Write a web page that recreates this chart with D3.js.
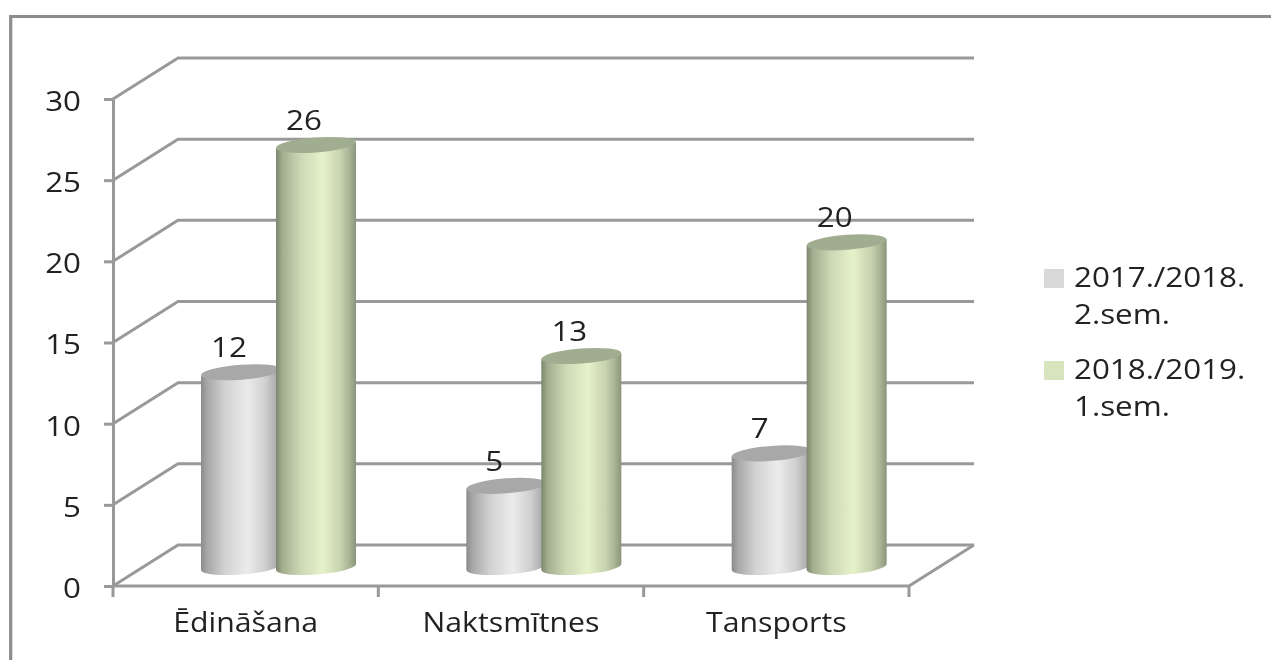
<!DOCTYPE html>
<html>
<head>
<meta charset="utf-8">
<script src="https://cdn.jsdelivr.net/npm/d3@7"></script>
<style>
  html, body { margin: 0; padding: 0; background: #fff; overflow: hidden; }
  svg { display: block; filter: blur(0.55px); }
  text { font-family: "Open Sans", sans-serif; fill: #222; }
</style>
</head>
<body>
<div id="viz-container"></div>
<script>
const categories = ['Ēdināšana', 'Naktsmītnes', 'Tansports'];
const seriesNames = ['2017./2018. 2.sem.', '2018./2019. 1.sem.'];
const legendLines = [['2017./2018.', '2.sem.'], ['2018./2019.', '1.sem.']];
const values2017 = [12, 5, 7];
const values2018 = [26, 13, 20];
const yTicks = [0, 5, 10, 15, 20, 25, 30];

const W = 1271, H = 660;
const plot = {left: 113, right: 909, top: 99, bottom: 586};
const depth = {x: 65, y: -41};   // floor offset of the 3d box
const barLift = -19;             // cylinders stand a bit behind the front edge
const rx = 40, ry = 7.5, tilt = -4.3;
const gridColor = '#999';
const fontSize = 27;
const textStretch = 1.16;        // the source picture is wider than it is tall

const svg = d3.select('#viz-container').append('svg')
  .attr('width', W).attr('height', H);

const defs = svg.append('defs');
function gradient(id, stops) {
  const g = defs.append('linearGradient').attr('id', id);
  stops.forEach(([o, c]) => g.append('stop').attr('offset', o).attr('stop-color', c));
}
gradient('barGray', [[0, '#8c8c8c'], [0.08, '#a8a8a8'], [0.3, '#d2d2d2'], [0.58, '#ebebeb'], [0.8, '#d0d0d0'], [0.92, '#b2b2b2'], [1, '#9a9a9a']]);
gradient('barGreen', [[0, '#7b866c'], [0.08, '#a3ae8f'], [0.3, '#ccd7b5'], [0.58, '#e6f2c9'], [0.8, '#c8d3af'], [0.92, '#a8b395'], [1, '#89947a']]);

const colors = {
  top: ['#a8a8a8', '#a1ad90'],
  fill: ['url(#barGray)', 'url(#barGreen)'],
  legend: ['#d9d9d9', '#d7e4bd']
};

// widen glyphs without losing real text
function stretch(sel, k = textStretch) {
  sel.each(function () {
    const len = this.getComputedTextLength();
    d3.select(this)
      .attr('textLength', len * k)
      .attr('lengthAdjust', 'spacingAndGlyphs');
  });
}

// outer frame
svg.append('path')
  .attr('d', `M10.7,${H + 5} V16.5 H${W + 5}`)
  .attr('fill', 'none').attr('stroke', '#8c8c8c').attr('stroke-width', 3.2);

const x = d3.scaleBand().domain(categories).range([plot.left, plot.right]);
const y = d3.scaleLinear().domain([0, 30]).range([plot.bottom, plot.top]);
const xSeries = d3.scalePoint().domain(seriesNames).range([128, 203]);

// back wall gridlines and the slanted left wall
const grid = svg.append('g').attr('fill', 'none').attr('stroke', gridColor).attr('stroke-width', 3);
yTicks.forEach(t => {
  grid.append('path').attr('d',
    `M${plot.left},${y(t)} L${plot.left + depth.x},${y(t) + depth.y} H${plot.right + depth.x}`);
});
// floor front edge and right side
grid.append('path').attr('d',
  `M${plot.left},${y(0)} H${plot.right} L${plot.right + depth.x},${y(0) + depth.y}`);

// axes
const yAxis = svg.append('g')
  .attr('transform', `translate(${plot.left},0)`)
  .call(d3.axisLeft(y).tickValues(yTicks).tickSize(9).tickPadding(23).tickSizeOuter(0));
yAxis.selectAll('line').attr('stroke', gridColor).attr('stroke-width', 3);
yAxis.select('.domain').attr('stroke', gridColor).attr('stroke-width', 3);
yAxis.selectAll('text')
  .attr('font-size', fontSize).attr('dy', '0.42em')
  .style('font-family', '"Open Sans", sans-serif').attr('fill', '#222')
  .call(stretch);

const xAxis = svg.append('g')
  .attr('transform', `translate(0,${plot.bottom})`)
  .call(d3.axisBottom(x).tickSize(0).tickPadding(27));
xAxis.select('.domain').remove();
xAxis.selectAll('text')
  .attr('font-size', fontSize)
  .style('font-family', '"Open Sans", sans-serif').attr('fill', '#222')
  .call(stretch, 1.12);
// ticks sit on the category boundaries, not the centres
xAxis.selectAll('line.sep')
  .data([...categories.map(c => x(c)), plot.right])
  .join('line').attr('class', 'sep')
  .attr('x1', d => d).attr('x2', d => d)
  .attr('y1', 0).attr('y2', 11)
  .attr('stroke', gridColor).attr('stroke-width', 3);

// cylinders
[values2017, values2018].forEach((vals, s) => {
  const g = svg.append('g');
  vals.forEach((v, i) => {
    const cx = x(categories[i]) + xSeries(seriesNames[s]);
    const topY = y(v) + barLift;
    const baseY = y(0) + barLift;
    const dy = rx * Math.sin(-tilt * Math.PI / 180);
    const arc = (x2, y2, sweep) => `A${rx},${ry} ${tilt} 0 ${sweep} ${x2},${y2}`;

    g.append('path')
      .attr('d', `M${cx - rx},${topY + dy} V${baseY + dy} ${arc(cx + rx, baseY - dy, 0)} V${topY - dy} Z`)
      .attr('fill', colors.fill[s]);
    g.append('ellipse')
      .attr('cx', cx).attr('cy', topY).attr('rx', rx).attr('ry', ry)
      .attr('transform', `rotate(${tilt} ${cx} ${topY})`)
      .attr('fill', colors.top[s]);
    g.append('text')
      .attr('x', cx - 12).attr('y', topY - 15)
      .attr('text-anchor', 'middle').attr('font-size', fontSize)
      .text(v)
      .call(stretch);
  });
});

// legend
const legendY = d3.scalePoint().domain(seriesNames).range([269, 361]);
seriesNames.forEach((name, s) => {
  const top = legendY(name);
  svg.append('rect')
    .attr('x', 1044).attr('y', top).attr('width', 20).attr('height', 19)
    .attr('fill', colors.legend[s]);
  legendLines[s].forEach((line, l) => {
    svg.append('text')
      .attr('x', 1074).attr('y', top + 18 + l * 36.5)
      .attr('font-size', fontSize)
      .text(line)
      .call(stretch);
  });
});
</script>
</body>
</html>
